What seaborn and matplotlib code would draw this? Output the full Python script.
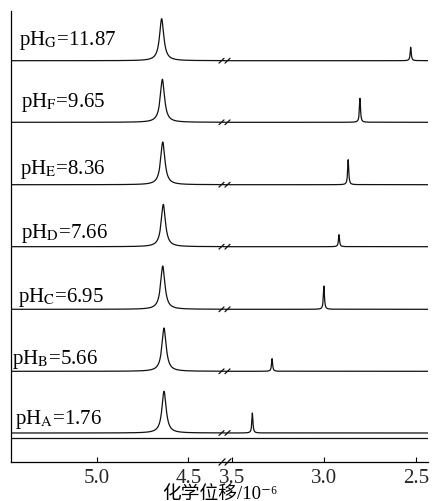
import numpy as np
import pandas as pd
import matplotlib
matplotlib.use("Agg")
import matplotlib.pyplot as plt
import seaborn as sns

# sample labels (A -> G, bottom to top)
samples = ["A", "B", "C", "D", "E", "F", "G"]
ph_values = ["1.76", "5.66", "6.95", "7.66", "8.36", "9.65", "11.87"]

# baseline offset of each trace (plot units)
baselines = [29.0, 90.7, 152.7, 215.3, 277.3, 339.7, 401.3]

# water (HDO) peak
water_shift = [4.632, 4.632, 4.639, 4.636, 4.639, 4.641, 4.645]
water_height = [41.7, 43.3, 43.3, 42.3, 42.7, 43.0, 42.0]
water_hwhm = 0.014

# compound signal
signal_shift = [3.391, 3.284, 3.002, 2.920, 2.870, 2.806, 2.530]
signal_height = [20.0, 12.7, 23.3, 12.0, 25.0, 24.0, 13.4]
signal_hwhm = 0.0035

# extra flat line under trace A
floor_line = 23.7

left_ticks = [5.0, 4.5]
right_ticks = [3.5, 3.0, 2.5]
left_range = (5.466, 4.300)
right_range = (3.540, 2.436)

sns.set_theme(style="white")
plt.rcParams["font.family"] = ["Liberation Serif", "Noto Sans CJK SC", "DejaVu Serif"]
plt.rcParams["mathtext.fontset"] = "stix"

W, H = 435, 502
fig = plt.figure(figsize=(W / 100, H / 100), dpi=100)
x_left, x_break, x_right = 11, 225, 428
y_bottom, y_top = 463, 12
ax1 = fig.add_axes([x_left / W, 1 - y_bottom / H, (x_break - x_left) / W, (y_bottom - y_top) / H])
ax2 = fig.add_axes([x_break / W, 1 - y_bottom / H, (x_right - x_break) / W, (y_bottom - y_top) / H])


def lorentz(x, x0, hwhm):
    return hwhm ** 2 / ((x - x0) ** 2 + hwhm ** 2)


line_kw = dict(color="#111111", linewidth=0.9, estimator=None, legend=False)
for ax, (xa, xb) in [(ax1, left_range), (ax2, right_range)]:
    x = np.linspace(xb, xa, 4000)
    for i, s in enumerate(samples):
        y = (baselines[i]
             + water_height[i] * lorentz(x, water_shift[i], water_hwhm)
             + signal_height[i] * lorentz(x, signal_shift[i], signal_hwhm))
        df = pd.DataFrame({"shift": x, "intensity": y})
        sns.lineplot(data=df, x="shift", y="intensity", ax=ax, **line_kw)
    ax.axhline(floor_line, color="#111111", linewidth=0.9)
    ax.set_xlim(xa, xb)
    ax.set_ylim(0, y_bottom - y_top)
    ax.set_xlabel("")
    ax.set_ylabel("")
    ax.set_yticks([])
    for side in ["top", "right", "left"]:
        ax.spines[side].set_visible(False)
    ax.spines["bottom"].set_color("black")
    ax.spines["bottom"].set_linewidth(0.9)
    ax.tick_params(axis="x", direction="in", length=3.5, width=0.8, color="black",
                   pad=4.0, labelsize=15, bottom=True)
    ax.patch.set_alpha(0)

ax1.spines["left"].set_visible(True)
ax1.spines["left"].set_color("black")
ax1.spines["left"].set_linewidth(0.9)
ax1.set_xticks(left_ticks)
ax1.set_xticklabels([f"{t:.1f}" for t in left_ticks])
ax2.set_xticks(right_ticks)
ax2.set_xticklabels([f"{t:.1f}" for t in right_ticks])

# pH labels
label_x_px = [15, 12, 18, 21, 20, 21, 19]
label_y = [43, 103.5, 165, 229.5, 293.5, 361, 423]
ppm_per_px = (left_range[0] - left_range[1]) / (x_break - x_left)
for i, s in enumerate(samples):
    ax1.text(left_range[0] - (label_x_px[i] - x_left) * ppm_per_px, label_y[i],
             f"pH$_{{\\mathrm{{{s}}}}}$={ph_values[i]}",
             fontsize=15, va="center", ha="left", color="black")

# axis break marks
def slash_pair(y, half_h, width):
    for x0 in (219, 225):
        xs = [left_range[0] - (x0 - x_left) * ppm_per_px,
              left_range[0] - (x0 + width - x_left) * ppm_per_px]
        ax1.plot(xs, [y - half_h, y + half_h], color="#111111", linewidth=0.9, clip_on=False)

for b in baselines:
    slash_pair(b, 2.4, 5)
slash_pair(0, 3.2, 6)

fig.text((x_left + x_right) / 2 / W, 1 - 494 / H, "化学位移/10⁻⁶",
         fontsize=13.5, ha="center", va="center", color="black")

fig.savefig("out.png", dpi=100)
